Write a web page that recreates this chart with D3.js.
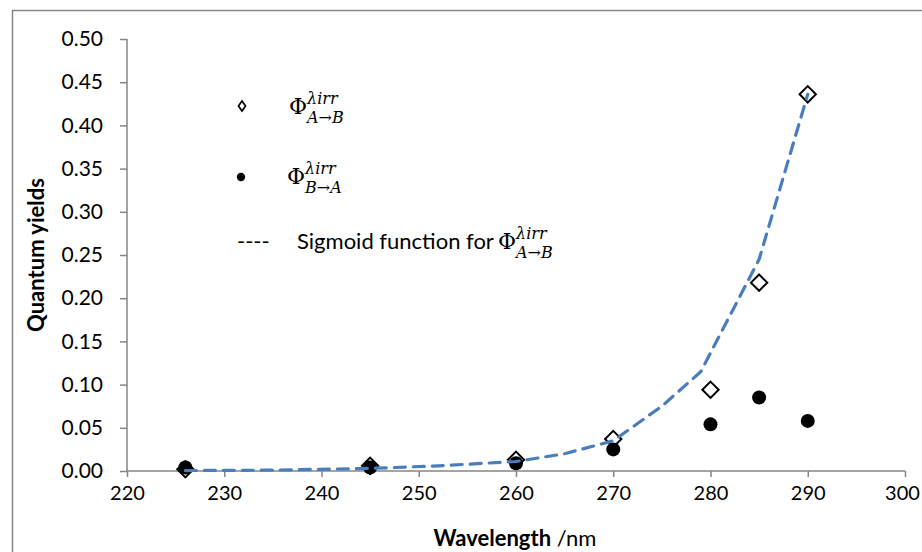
<!DOCTYPE html>
<html><head><meta charset="utf-8">
<script src="https://cdn.jsdelivr.net/npm/d3@7"></script>
<style>
body{margin:0;background:#fff;}
svg{display:block;}
</style></head>
<body>
<svg id="c" width="922" height="552"></svg>
<script>
const wavelengths = [226, 245, 260, 270, 280, 285, 290];
const phiAB = [0.002, 0.006, 0.013, 0.037, 0.094, 0.218, 0.436];
const phiBA = [0.004, 0.004, 0.009, 0.025, 0.054, 0.085, 0.058];
const sigmoidX = [226, 235, 245, 252, 260, 265, 270, 275, 279, 285, 290];
const sigmoidY = [0.0005, 0.001, 0.003, 0.006, 0.011, 0.02, 0.035, 0.075, 0.115, 0.245, 0.436];
const xTicks = [220, 230, 240, 250, 260, 270, 280, 290, 300];
const yTicks = [0, 0.05, 0.10, 0.15, 0.20, 0.25, 0.30, 0.35, 0.40, 0.45, 0.50];

const svg = d3.select("#c");
const font = "Lato, 'Liberation Sans', sans-serif";
const axisColor = "#868686";

svg.append("rect").attr("x", 12.5).attr("y", 10.5).attr("width", 1000).attr("height", 1000)
  .attr("fill", "none").attr("stroke", axisColor).attr("stroke-width", 1.5);

const x = d3.scaleLinear().domain([220, 300]).range([127, 905]);
const y = d3.scaleLinear().domain([0, 0.5]).range([471, 39]);

// Y axis
const yAxis = svg.append("g").attr("transform", "translate(127,0)")
  .call(d3.axisLeft(y).tickValues(yTicks).tickFormat(d3.format(".2f")).tickSize(7).tickPadding(17));
yAxis.select(".domain").attr("stroke", axisColor).attr("stroke-width", 1.5).attr("d", `M0,${y(0.5)}V${y(0)}`);
yAxis.selectAll(".tick line").attr("stroke", axisColor).attr("stroke-width", 1.5);
yAxis.selectAll(".tick text").attr("font-family", font).attr("font-size", 21).attr("fill", "#000");

// X axis
const xAxis = svg.append("g").attr("transform", `translate(0,${y(0)})`)
  .call(d3.axisBottom(x).tickValues(xTicks).tickSize(6).tickPadding(9));
xAxis.select(".domain").attr("stroke", axisColor).attr("stroke-width", 1.5).attr("d", `M${x(220)},0H${x(300)}`);
xAxis.selectAll(".tick line").attr("stroke", axisColor).attr("stroke-width", 1.5);
xAxis.selectAll(".tick text").attr("font-family", font).attr("font-size", 20).attr("fill", "#000")
  .attr("dx", d => d === 300 ? -3 : 0);

// Axis titles
svg.append("text").attr("transform", `translate(44,255) rotate(-90)`)
  .attr("text-anchor", "middle").attr("font-family", font).attr("font-size", 22).attr("font-weight", "bold")
  .text("Quantum yields");
const xt = svg.append("text").attr("x", 515).attr("y", 546).attr("text-anchor", "middle")
  .attr("font-family", font).attr("font-size", 22);
xt.append("tspan").attr("font-weight", "bold").text("Wavelength");
xt.append("tspan").text(" /nm");

// Diamonds
const diamond = d3.symbol().type(d3.symbolDiamond2).size(170);
svg.append("g").selectAll("path").data(wavelengths.map((w, i) => [w, phiAB[i]])).join("path")
  .attr("d", diamond).attr("transform", d => `translate(${x(d[0])},${y(d[1])})`)
  .attr("fill", "#fff").attr("stroke", "#000").attr("stroke-width", 2);

// Circles
svg.append("g").selectAll("circle").data(wavelengths.map((w, i) => [w, phiBA[i]])).join("circle")
  .attr("cx", d => x(d[0])).attr("cy", d => y(d[1])).attr("r", 7).attr("fill", "#000");

// Sigmoid line
const line = d3.line().x(d => x(d[0])).y(d => y(d[1]));
svg.append("path").datum(sigmoidX.map((w, i) => [w, sigmoidY[i]]))
  .attr("d", line).attr("fill", "none").attr("stroke", "#4a7ebb").attr("stroke-width", 3.2)
  .attr("stroke-dasharray", "11,8").attr("stroke-linecap", "round");

// Legend
const serif = "'DejaVu Serif', 'Liberation Serif', serif";
function phi(px, py, sub) {
  svg.append("text").attr("x", px).attr("y", py).attr("font-family", serif)
    .attr("font-size", 22).text("Φ");
  svg.append("text").attr("x", px + 18).attr("y", py - 10).attr("font-family", serif)
    .attr("font-style", "italic").attr("font-size", 16).text("λirr");
  svg.append("text").attr("x", px + 18).attr("y", py + 9).attr("font-family", serif)
    .attr("font-style", "italic").attr("font-size", 16).text(sub);
}
svg.append("path").attr("d", d3.symbol().type(d3.symbolDiamond2).size(50)())
  .attr("transform", "translate(242,106) scale(0.8,1.15)").attr("fill", "#fff").attr("stroke", "#000").attr("stroke-width", 1.8);
phi(289, 114, "A→B");
svg.append("circle").attr("cx", 241).attr("cy", 177).attr("r", 4.2).attr("fill", "#000");
phi(287, 184, "B→A");
svg.append("text").attr("x", 237).attr("y", 249).attr("font-family", font).attr("font-size", 22).text("----");
svg.append("text").attr("x", 297).attr("y", 249).attr("font-family", font).attr("font-size", 22).text("Sigmoid function for");
phi(498, 249, "A→B");
</script>
</body></html>
